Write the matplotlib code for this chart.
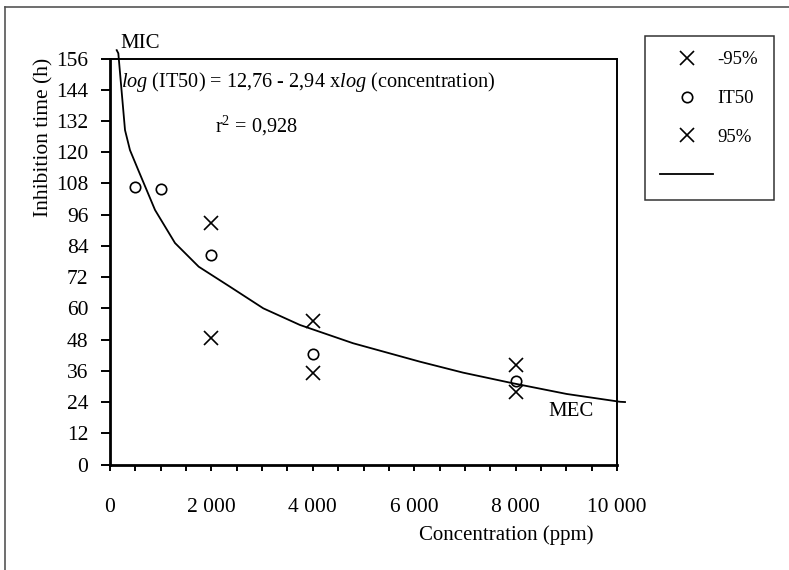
import matplotlib.pyplot as plt
from matplotlib.lines import Line2D

plt.rcParams['font.family'] = ['Liberation Serif', 'DejaVu Serif']
plt.rcParams['mathtext.fontset'] = 'custom'
plt.rcParams['mathtext.rm'] = 'Liberation Serif'
plt.rcParams['mathtext.it'] = 'Liberation Serif:italic'

# measured points (ppm, hours)
conc_low = [2000, 4000, 8000]
lower_95 = [48.7, 35.3, 27.9]

conc_it50 = [500, 1000, 2000, 4000, 8000]
it50 = [106.6, 105.8, 80.5, 42.4, 32.2]

conc_high = [2000, 4000, 8000]
upper_95 = [92.9, 55.1, 38.2]

# fitted curve
fit_conc = [132, 164, 296, 394, 558, 888, 1282, 1750, 2367, 3024, 3748,
            4793, 6114, 6963, 7949, 9008, 10059, 10158]
fit_time = [159.2, 158.0, 128.5, 120.8, 113.1, 97.8, 85.1, 76.0, 68.3, 60.0,
            53.6, 46.6, 39.5, 35.3, 31.2, 27.1, 24.1, 24.0]

W, H = 789, 570
fig = plt.figure(figsize=(W / 100, H / 100), dpi=100)
ax = fig.add_axes([110 / W, 1 - 464.5 / H, (617 - 110) / W, (464.5 - 58.5) / H])

ax.plot(conc_low, lower_95, 'x', color='black', ms=10, mew=1.2, label='-95%')
ax.plot(conc_it50, it50, 'o', mfc='none', mec='black', ms=7.5, mew=1.2, label='IT50')
ax.plot(conc_high, upper_95, 'x', color='black', ms=10, mew=1.2, label='95%')
ax.plot(fit_conc, fit_time, '-', color='black', lw=1.3, clip_on=False, label=' ')

ax.set_xlim(0, 10000)
ax.set_ylim(0, 156)
ax.set_yticks(range(0, 157, 12))
ax.set_xticks(range(0, 10001, 2000))
ax.set_xticks(range(0, 10001, 500), minor=True)
ax.set_xticklabels(['0', '2 000', '4 000', '6 000', '8 000', '10 000'])

ax.tick_params(axis='y', direction='out', length=6.5, width=1.4, pad=9, labelsize=15.5)
ax.tick_params(axis='x', which='both', direction='out', length=4, width=1.4,
               pad=20, labelsize=15.5)
for side in ['left', 'bottom']:
    ax.spines[side].set_linewidth(2)
for side in ['top', 'right']:
    ax.spines[side].set_linewidth(1.4)

fig.text(44 / W, 1 - 137 / H, 'Inhibition time (h)', rotation=90,
         ha='center', va='center', fontsize=15.5)
fig.text(506 / W, 1 - 535 / H, 'Concentration (ppm)', ha='center', va='center',
         fontsize=15)

# annotations inside the plot
fig.text(120 / W, 1 - 43 / H, 'MIC', ha='left', va='center', fontsize=15)
fig.text(548 / W, 1 - 412 / H, 'MEC', ha='left', va='center', fontsize=15)
fig.text(121 / W, 1 - 82 / H,
         r'$\mathit{log}$ (IT50) = 12,76 - 2,94 x$\mathit{log}$ (concentration)',
         ha='left', va='center', fontsize=14.6)
fig.text(215 / W, 1 - 126 / H, r'r$^\mathregular{2}$ = 0,928', ha='left', va='center',
         fontsize=14.6)

leg = fig.legend(loc='upper left', bbox_to_anchor=(645 / W, 1 - 36 / H),
                 fontsize=13.5, frameon=True, fancybox=False, edgecolor='black',
                 handlelength=2.8, handletextpad=0.25, labelspacing=1.15,
                 borderpad=0.82, borderaxespad=0)
leg.get_frame().set_linewidth(1.1)

# outer frame lines
fig.add_artist(Line2D([5 / W, 5 / W], [0, 1 - 7 / H], color='#555555', lw=1.2))
fig.add_artist(Line2D([5 / W, 1], [1 - 7 / H, 1 - 7 / H], color='#555555', lw=1.2))

fig.savefig('out.png', dpi=100)
